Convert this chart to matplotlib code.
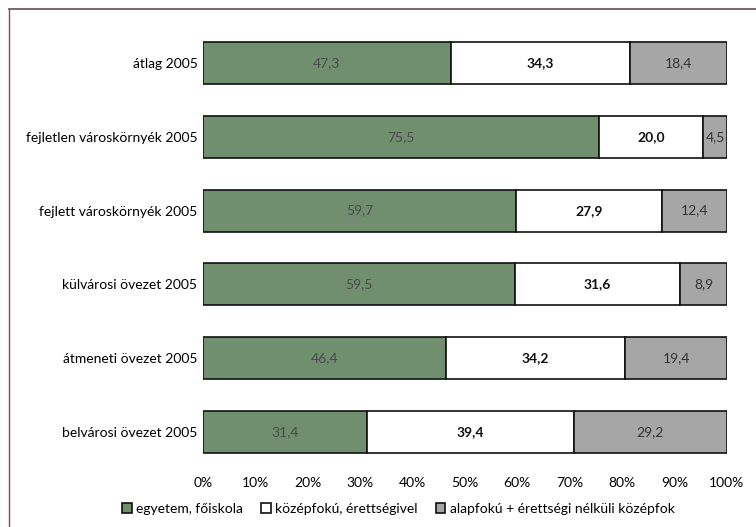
import numpy as np
import matplotlib.pyplot as plt
from matplotlib.lines import Line2D

plt.rcParams['font.family'] = ['Lato', 'DejaVu Sans']

categories = ["belvárosi övezet 2005", "átmeneti övezet 2005", "külvárosi övezet 2005",
              "fejlett városkörnyék 2005", "fejletlen városkörnyék 2005", "átlag 2005"]
egyetem = [31.4, 46.4, 59.5, 59.7, 75.5, 47.3]
kozepfoku = [39.4, 34.2, 31.6, 27.9, 20.0, 34.3]
alapfoku = [29.2, 19.4, 8.9, 12.4, 4.5, 18.4]
series_names = ["egyetem, főiskola", "középfokú, érettségivel",
                "alapfokú + érettségi nélküli középfok"]
colors = ["#6f8f6f", "#ffffff", "#a6a6a6"]
label_colors = ["#4a4a4a", "#111111", "#333333"]

fig = plt.figure(figsize=(7.56, 5.27), dpi=100)
ax = fig.add_axes([0.2685, 0.110, 0.693, 0.8407])

y = np.arange(len(categories))
left = np.zeros(len(categories))
for vals, col, lc, name in zip([egyetem, kozepfoku, alapfoku], colors, label_colors, series_names):
    vals = np.array(vals)
    ax.barh(y, vals, left=left, height=0.57, color=col, edgecolor="#111111",
            linewidth=1.2, label=name)
    for yi, l, v in zip(y, left, vals):
        ax.text(l + v / 2, yi, f"{v:.1f}".replace(".", ","), ha="center", va="center",
                fontsize=10, color=lc, fontweight="bold" if lc == "#111111" else "normal")
    left = left + vals

ax.set_xlim(0, 100)
ax.set_ylim(-0.5, len(categories) - 0.5)
ax.set_yticks(y)
ax.set_yticklabels(categories, fontsize=10)
ax.set_xticks(np.arange(0, 101, 10))
ax.set_xticklabels([f"{t}%" for t in range(0, 101, 10)], fontsize=10)
ax.tick_params(length=0, pad=4)
ax.tick_params(axis="x", pad=6)
for s in ax.spines.values():
    s.set_visible(False)

handles, labels = ax.get_legend_handles_labels()
fig.legend(handles, labels, loc="center", bbox_to_anchor=(0.527, 0.034), ncol=3,
           frameon=False, fontsize=10, handlelength=0.7, handleheight=0.7,
           handletextpad=0.3, columnspacing=1.3, borderaxespad=0)

# figure border (top and left)
fig.add_artist(Line2D([0.012, 1.0], [0.983, 0.983], color="#6a4a5a", lw=1.2))
fig.add_artist(Line2D([0.012, 0.012], [0.0, 0.983], color="#a04060", lw=1.0))

fig.savefig("out.png", dpi=100)
